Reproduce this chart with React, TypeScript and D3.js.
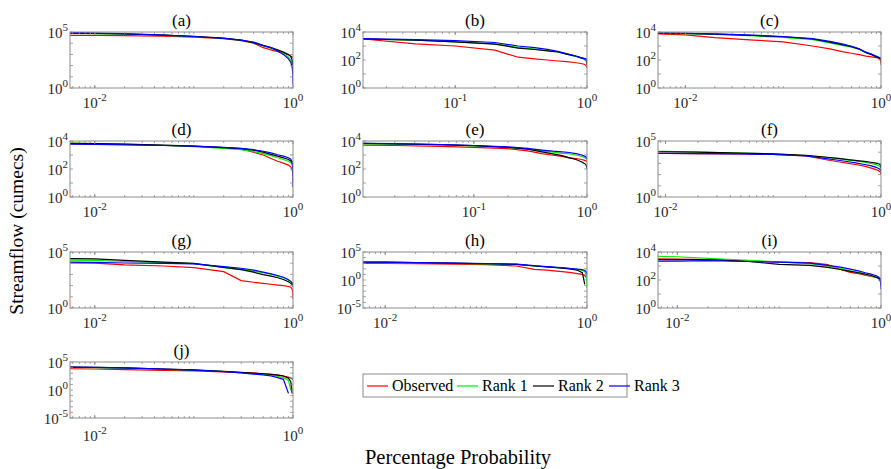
import React from 'react';
import * as d3 from 'd3';

// Exceedance probability grid (fraction of time)
const PROB = [0.005, 0.01, 0.02, 0.05, 0.1, 0.2, 0.3, 0.4, 0.5, 0.6, 0.7, 0.8, 0.9, 0.95, 0.98, 0.995, 1.0];
const SERIES_NAMES = ['Observed', 'Rank 1', 'Rank 2', 'Rank 3'];
const SERIES_COLORS = ['#ff0000', '#00ee00', '#000000', '#0000ff'];
const PANEL_TITLES = ['(a)', '(b)', '(c)', '(d)', '(e)', '(f)', '(g)', '(h)', '(i)', '(j)'];

// Streamflow values, stored as log10(cumecs); NaN = zero flow (not drawn on log axis)
const obsA = [4.7, 4.7, 4.68, 4.62, 4.55, 4.4, 4.22, 4.0, 3.6, 3.4, 3.25, 3.1, 2.95, 2.85, 2.78, 2.72, 2.68];
const r1A = [4.88, 4.85, 4.8, 4.7, 4.6, 4.42, 4.25, 4.05, 3.75, 3.55, 3.3, 3.1, 2.75, 2.5, 2.2, 1.9, 1.5];
const r2A = [4.9, 4.88, 4.82, 4.72, 4.62, 4.45, 4.27, 4.05, 3.78, 3.6, 3.4, 3.2, 3.0, 2.8, 2.5, 2.1, 1.6];
const r3A = [4.95, 4.9, 4.85, 4.72, 4.6, 4.43, 4.27, 4.1, 3.8, 3.6, 3.3, 3.0, 2.6, 2.3, 1.9, 1.3, 0.3];

const obsB = [3.5, 3.5, 3.5, 3.15, 3.0, 2.7, 2.2, 2.08, 2.0, 1.93, 1.88, 1.82, 1.75, 1.7, 1.62, 1.52, 1.43];
const r1B = [3.5, 3.5, 3.5, 3.42, 3.3, 3.15, 2.9, 2.78, 2.68, 2.58, 2.42, 2.3, 2.15, 2.1, 2.05, 2.0, 1.95];
const r2B = [3.5, 3.5, 3.5, 3.42, 3.3, 3.13, 2.85, 2.75, 2.65, 2.57, 2.42, 2.3, 2.15, 2.08, 2.0, 1.85, 1.65];
const r3B = [3.5, 3.5, 3.52, 3.45, 3.38, 3.25, 3.0, 2.88, 2.76, 2.62, 2.45, 2.32, 2.17, 2.12, 2.08, 2.05, 2.02];

const obsC = [3.87, 3.8, 3.6, 3.42, 3.3, 3.0, 2.8, 2.6, 2.48, 2.38, 2.28, 2.22, 2.17, 2.14, 2.05, 1.9, 1.66];
const r1C = [3.9, 3.88, 3.82, 3.72, 3.62, 3.45, 3.22, 3.05, 2.92, 2.75, 2.55, 2.4, 2.25, 2.18, 2.12, 2.05, 1.95];
const r2C = [3.93, 3.9, 3.85, 3.75, 3.66, 3.5, 3.28, 3.1, 2.95, 2.78, 2.52, 2.38, 2.22, 2.15, 2.1, 2.02, 1.9];
const r3C = [3.93, 3.9, 3.86, 3.77, 3.68, 3.52, 3.33, 3.15, 2.98, 2.8, 2.56, 2.42, 2.27, 2.2, 2.15, 2.1, 2.05];

const obsD = [3.82, 3.8, 3.75, 3.68, 3.62, 3.52, 3.42, 3.2, 3.0, 2.75, 2.55, 2.42, 2.28, 2.15, 1.95, 1.75, 1.5];
const r1D = [3.85, 3.82, 3.77, 3.68, 3.6, 3.47, 3.38, 3.25, 3.1, 2.95, 2.8, 2.68, 2.55, 2.45, 2.35, 2.25, 2.0];
const r2D = [3.83, 3.81, 3.77, 3.7, 3.63, 3.52, 3.45, 3.35, 3.2, 3.05, 2.92, 2.8, 2.68, 2.58, 2.45, 2.3, 2.0];
const r3D = [3.77, 3.76, 3.73, 3.68, 3.63, 3.54, 3.47, 3.38, 3.27, 3.15, 3.02, 2.92, 2.8, 2.7, 2.5, 2.0, 0.7];

const obsE = [3.7, 3.7, 3.68, 3.62, 3.55, 3.45, 3.3, 3.1, 2.98, 2.9, 2.8, 2.75, 2.68, 2.62, 2.58, 2.55, 2.5];
const r1E = [3.8, 3.8, 3.77, 3.72, 3.65, 3.55, 3.42, 3.3, 3.2, 3.12, 3.08, 3.0, 2.9, 2.82, 2.75, 2.7, 2.62];
const r2E = [3.85, 3.84, 3.8, 3.74, 3.67, 3.55, 3.42, 3.22, 3.08, 2.95, 2.8, 2.68, 2.5, 2.4, 2.3, 2.15, 2.0];
const r3E = [3.85, 3.84, 3.81, 3.75, 3.68, 3.58, 3.47, 3.35, 3.27, 3.22, 3.18, 3.1, 3.0, 2.92, 2.85, 2.8, 2.75];

const obsF = [3.9, 3.9, 3.88, 3.85, 3.8, 3.68, 3.35, 3.15, 3.0, 2.88, 2.75, 2.6, 2.45, 2.35, 2.25, 2.12, 2.0];
const r1F = [4.1, 4.08, 4.02, 3.93, 3.85, 3.7, 3.55, 3.42, 3.3, 3.2, 3.1, 3.0, 2.9, 2.8, 2.7, 2.55, 2.4];
const r2F = [4.05, 4.04, 4.0, 3.92, 3.85, 3.72, 3.57, 3.45, 3.33, 3.25, 3.18, 3.1, 3.03, 2.98, 2.9, 2.8, 2.6];
const r3F = [3.9, 3.9, 3.88, 3.85, 3.8, 3.66, 3.45, 3.28, 3.15, 3.02, 2.9, 2.8, 2.65, 2.55, 2.45, 2.38, 2.3];

const obsG = [4.04, 4.0, 3.85, 3.75, 3.6, 3.25, 2.45, 2.3, 2.2, 2.12, 2.05, 2.0, 1.92, 1.85, 1.7, 1.4, 0.8];
const r1G = [4.28, 4.25, 4.15, 4.05, 3.97, 3.6, 3.45, 3.3, 3.15, 3.02, 2.85, 2.7, 2.5, 2.35, 2.2, 2.1, 1.95];
const r2G = [4.42, 4.38, 4.25, 4.1, 3.98, 3.62, 3.42, 3.2, 2.98, 2.85, 2.7, 2.55, 2.35, 2.2, 2.1, 2.02, 1.9];
const r3G = [4.1, 4.08, 4.02, 3.98, 3.94, 3.7, 3.55, 3.38, 3.2, 3.05, 2.9, 2.75, 2.52, 2.38, 2.25, 2.18, 2.12];

const obsH = [2.97, 2.95, 2.92, 2.85, 2.75, 2.5, 1.9, 1.75, 1.6, 1.45, 1.3, 1.15, 1.0, 0.8, 0.5, 0.3, 0.1];
const r1H = [3.1, 3.08, 3.03, 2.95, 2.88, 2.78, 2.5, 2.35, 2.2, 2.1, 2.0, 1.9, 1.7, 1.5, 1.0, 0.0, -1.4];
const r2H = [3.2, 3.18, 3.1, 3.0, 2.9, 2.8, 2.5, 2.35, 2.2, 2.08, 1.95, 1.75, 1.3, -0.8, NaN, NaN, NaN];
const r3H = [3.2, 3.18, 3.12, 3.02, 2.95, 2.82, 2.55, 2.4, 2.25, 2.15, 2.05, 1.95, 1.85, 1.7, 1.5, 1.25, 1.0];

const obsI = [3.52, 3.5, 3.45, 3.35, 3.28, 3.25, 3.1, 2.75, 2.55, 2.45, 2.35, 2.25, 2.18, 2.15, 2.12, 2.1, 2.05];
const r1I = [3.7, 3.66, 3.55, 3.4, 3.3, 3.17, 3.0, 2.82, 2.65, 2.55, 2.4, 2.3, 2.2, 2.1, 2.05, 1.95, 1.85];
const r2I = [3.45, 3.45, 3.45, 3.32, 3.12, 3.05, 2.9, 2.75, 2.62, 2.52, 2.42, 2.32, 2.2, 2.1, 2.0, 1.85, 1.6];
const r3I = [3.35, 3.35, 3.38, 3.32, 3.28, 3.2, 3.05, 2.92, 2.78, 2.65, 2.52, 2.42, 2.3, 2.2, 2.0, 1.7, 1.35];

const obsJ = [3.8, 3.75, 3.65, 3.5, 3.4, 3.25, 3.1, 3.0, 2.9, 2.8, 2.7, 2.5, 2.3, 2.15, 2.0, 1.9, 1.8];
const r1J = [4.05, 4.0, 3.9, 3.7, 3.55, 3.3, 3.1, 2.95, 2.8, 2.62, 2.45, 2.2, 1.7, 0.0, NaN, NaN, NaN];
const r2J = [4.1, 4.05, 3.95, 3.75, 3.6, 3.32, 3.15, 3.0, 2.9, 2.8, 2.65, 2.5, 2.1, 1.5, -0.6, NaN, NaN];
const r3J = [4.1, 4.05, 3.95, 3.72, 3.55, 3.28, 3.05, 2.85, 2.7, 2.5, 2.2, 1.9, -0.6, NaN, NaN, NaN, NaN];

// Axis settings per panel (exponents of 10)
const X_MIN_EXP = [-2.25, -1.7, -2.28, -2.25, -1.98, -2.07, -2.25, -2.22, -2.19, -2.25];
const X_TICK_EXP = [[-2, 0], [-1, 0], [-2, 0], [-2, 0], [-1, 0], [-2, 0], [-2, 0], [-2, 0], [-2, 0], [-2, 0]];
const Y_RANGE_EXP = [[0, 5], [0, 4], [0, 4], [0, 4], [0, 4], [0, 5], [0, 5], [-5, 5], [0, 4], [-5, 5]];
const Y_TICK_EXP = [[0, 5], [0, 2, 4], [0, 2, 4], [0, 2, 4], [0, 2, 4], [0, 5], [0, 5], [-5, 0, 5], [0, 2, 4], [-5, 0, 5]];

const SERIES_BY_PANEL = [
  [obsA, r1A, r2A, r3A], [obsB, r1B, r2B, r3B], [obsC, r1C, r2C, r3C],
  [obsD, r1D, r2D, r3D], [obsE, r1E, r2E, r3E], [obsF, r1F, r2F, r3F],
  [obsG, r1G, r2G, r3G], [obsH, r1H, r2H, r3H], [obsI, r1I, r2I, r3I],
  [obsJ, r1J, r2J, r3J],
];

// Layout
const W = 891;
const H = 469;
const COL_X = [70, 363, 658];
const COL_W = [223, 224, 223];
const ROW_Y = [32, 141, 252, 362];
const ROW_H = 56;
const FONT = '"Liberation Serif", "Times New Roman", serif';
const AXIS_COLOR = '#8c8c8c';
const TEXT_COLOR = '#262626';

function Pow10Label({ x, y, exp, anchor }: { x: number; y: number; exp: number; anchor: string }) {
  return (
    <text x={x} y={y} textAnchor={anchor} fontFamily={FONT} fontSize={15} fill={TEXT_COLOR}>
      <tspan>10</tspan>
      <tspan fontSize={11} dy={-7}>{String(exp)}</tspan>
    </text>
  );
}

function Panel({ idx }: { idx: number }) {
  const col = idx % 3;
  const row = Math.floor(idx / 3);
  const x0 = COL_X[col];
  const w = COL_W[col];
  const y0 = ROW_Y[row];
  const h = ROW_H;
  const xs = d3.scaleLog().domain([Math.pow(10, X_MIN_EXP[idx]), 1]).range([x0, x0 + w]);
  const [ye0, ye1] = Y_RANGE_EXP[idx];
  const ys = d3.scaleLog().domain([Math.pow(10, ye0), Math.pow(10, ye1)]).range([y0 + h, y0]);

  const minor: number[] = [];
  for (let k = Math.floor(X_MIN_EXP[idx]); k < 0; k++) {
    for (let m = 1; m <= 9; m++) {
      const v = m * Math.pow(10, k);
      if (v > Math.pow(10, X_MIN_EXP[idx]) && v < 1) minor.push(v);
    }
  }
  const yTicks: number[] = [];
  for (let e = ye0; e <= ye1; e++) yTicks.push(Math.pow(10, e));

  const line = d3
    .line<number>()
    .defined((v) => Number.isFinite(v))
    .x((_, i) => xs(PROB[i]))
    .y((v) => ys(Math.pow(10, v)));

  const clipId = `clip-${idx}`;
  return (
    <g>
      <defs>
        <clipPath id={clipId}>
          <rect x={x0} y={y0} width={w} height={h} />
        </clipPath>
      </defs>
      <rect x={x0} y={y0} width={w} height={h} fill="#fff" />
      <g clipPath={`url(#${clipId})`}>
        {SERIES_BY_PANEL[idx].map((s, si) => (
          <path key={si} d={line(s) || ''} fill="none" stroke={SERIES_COLORS[si]} strokeWidth={1.2} />
        ))}
      </g>
      {minor.map((v, i) => (
        <g key={`m${i}`}>
          <line x1={xs(v)} x2={xs(v)} y1={y0 + h} y2={y0 + h - 2} stroke={AXIS_COLOR} strokeWidth={0.8} />
          <line x1={xs(v)} x2={xs(v)} y1={y0} y2={y0 + 2} stroke={AXIS_COLOR} strokeWidth={0.8} />
        </g>
      ))}
      {X_TICK_EXP[idx].map((e) => (
        <g key={`x${e}`}>
          <line x1={xs(Math.pow(10, e))} x2={xs(Math.pow(10, e))} y1={y0 + h} y2={y0 + h - 3} stroke={AXIS_COLOR} />
          <line x1={xs(Math.pow(10, e))} x2={xs(Math.pow(10, e))} y1={y0} y2={y0 + 3} stroke={AXIS_COLOR} />
          <Pow10Label x={xs(Math.pow(10, e))} y={y0 + h + (row === 3 ? 23 : 20)} exp={e} anchor="middle" />
        </g>
      ))}
      {yTicks.map((v, i) => (
        <g key={`y${i}`}>
          <line x1={x0} x2={x0 + 3} y1={ys(v)} y2={ys(v)} stroke={AXIS_COLOR} strokeWidth={0.8} />
          <line x1={x0 + w} x2={x0 + w - 3} y1={ys(v)} y2={ys(v)} stroke={AXIS_COLOR} strokeWidth={0.8} />
        </g>
      ))}
      {Y_TICK_EXP[idx].map((e) => (
        <Pow10Label key={`yl${e}`} x={x0 - 2} y={ys(Math.pow(10, e)) + 6} exp={e} anchor="end" />
      ))}
      <rect x={x0} y={y0} width={w} height={h} fill="none" stroke={AXIS_COLOR} strokeWidth={1} />
      <text x={x0 + w / 2} y={y0 - 6} textAnchor="middle" fontFamily={FONT} fontSize={17} fill="#000">
        {PANEL_TITLES[idx]}
      </text>
    </g>
  );
}

function Legend() {
  const lx = 363;
  const ly = 374;
  const lw = 264;
  const lh = 23;
  const itemX = [367, 457, 533, 609];
  return (
    <g>
      <rect x={lx} y={ly} width={lw} height={lh} fill="#fff" stroke={AXIS_COLOR} strokeWidth={1} />
      {SERIES_NAMES.map((n, i) => (
        <g key={n}>
          <line x1={itemX[i]} x2={itemX[i] + 21} y1={ly + 12} y2={ly + 12} stroke={SERIES_COLORS[i]} strokeWidth={1.2} />
          <text x={itemX[i] + 25} y={ly + 17} fontFamily={FONT} fontSize={16} fill="#000">
            {n}
          </text>
        </g>
      ))}
    </g>
  );
}

export default function App() {
  return (
    <svg
      width={W}
      height={H}
      viewBox={`0 0 ${W} ${H}`}
      style={{ position: 'absolute', left: 0, top: 0, background: '#fff' }}
    >
      <rect x={0} y={0} width={W} height={H} fill="#fff" />
      {PANEL_TITLES.map((_, i) => (
        <Panel key={i} idx={i} />
      ))}
      <Legend />
      <text
        transform={`translate(23, 231) rotate(-90)`}
        textAnchor="middle"
        fontFamily={FONT}
        fontSize={19.5}
        fill="#000"
      >
        Streamflow (cumecs)
      </text>
      <text x={458} y={464} textAnchor="middle" fontFamily={FONT} fontSize={20.5} fill="#000">
        Percentage Probability
      </text>
    </svg>
  );
}
